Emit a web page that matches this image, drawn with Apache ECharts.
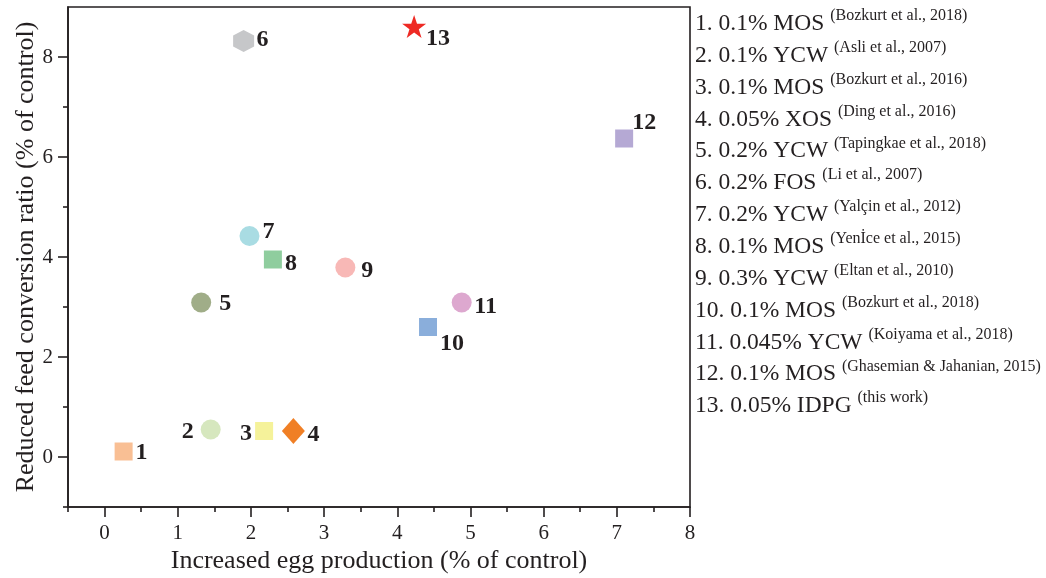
<!DOCTYPE html>
<html><head><meta charset="utf-8">
<script src="https://cdn.jsdelivr.net/npm/echarts@6/dist/echarts.min.js"></script>
<style>html,body{margin:0;padding:0;background:#fff}#c{width:1046px;height:578px}</style>
</head><body><div id="c"></div>
<script>
// ---- data ----
const pointIds = ['1','2','3','4','5','6','7','8','9','10','11','12','13'];
const eggProd = [0.26, 1.45, 2.18, 2.58, 1.32, 1.90, 1.98, 2.30, 3.29, 4.42, 4.88, 7.10, 4.23];
const fcrReduced = [0.11, 0.55, 0.52, 0.52, 3.09, 8.32, 4.42, 3.95, 3.79, 2.60, 3.09, 6.37, 8.61];
const treatments = ['0.1% MOS','0.1% YCW','0.1% MOS','0.05% XOS','0.2% YCW','0.2% FOS','0.2% YCW','0.1% MOS','0.3% YCW','0.1% MOS','0.045% YCW','0.1% MOS','0.05% IDPG'];
const references = ['(Bozkurt et al., 2018)','(Asli et al., 2007)','(Bozkurt et al., 2016)','(Ding et al., 2016)','(Tapingkae et al., 2018)','(Li et al., 2007)','(Yalçin et al., 2012)','(Yenİce et al., 2015)','(Eltan et al., 2010)','(Bozkurt et al., 2018)','(Koiyama et al., 2018)','(Ghasemian & Jahanian, 2015)','(this work)'];
const xTickLabels = [0, 1, 2, 3, 4, 5, 6, 7, 8];
const xMinorTicks = [-0.5, 0.5, 1.5, 2.5, 3.5, 4.5, 5.5, 6.5, 7.5];
const yTickLabels = [0, 2, 4, 6, 8];
const yMinorTicks = [-1, 1, 3, 5, 7];

// ---- styles ----
const HEX = 'path://M50,0 L93.3,25 L93.3,75 L50,100 L6.7,75 L6.7,25 Z';
const STAR = 'path://M50,0 L61.8,35.1 L98.9,35.1 L69.1,56.9 L80.3,91.9 L50,70.2 L19.7,91.9 L30.9,56.9 L1.1,35.1 L38.2,35.1 Z';
const symbols = ['rect','circle','rect','diamond','circle',HEX,'circle','rect','circle','rect','circle','rect',STAR];
const symSizes = [18,20,18,[23,26],20,[21,22],20,18,20,18,20,18,[24,23]];
const colors = ['#F9BF94','#D6E7BE','#F5F29A','#F07F25','#A0AD88','#C6C7C9','#A9DCE3','#8FCD9E','#F8B8B6','#8AAEDB','#DDA8CF','#B5A9D4','#EE2A24'];
const labelOffsets = [[18,1],[-23,2],[-18,3],[20,4],[24,1],[19,-1],[19,-4],[18,4],[22,3],[24,17],[24,4],[20,-16],[24,12]];
const FONT = 'Liberation Serif';
const INK = '#231f20';

const legendNames = treatments.map((t, i) => pointIds[i] + '. ' + t);

const series = pointIds.map((id, i) => ({
  type: 'scatter',
  name: legendNames[i],
  xAxisIndex: 0, yAxisIndex: 0,
  data: [[eggProd[i], fcrReduced[i]]],
  symbol: symbols[i],
  symbolSize: symSizes[i],
  itemStyle: { color: colors[i], opacity: 1 },
  emphasis: { disabled: true },
  label: {
    show: true, formatter: id, position: 'inside', offset: labelOffsets[i],
    fontFamily: FONT, fontSize: 24, fontWeight: 'bold', color: INK
  },
  z: 3
}));

const lineStyle = { color: INK, width: 1.6 };

const option = {
  animation: false,
  backgroundColor: '#fff',
  grid: { left: 68, right: 356, top: 7, bottom: 71, show: true, borderColor: INK, borderWidth: 1.6, outerBoundsMode: 'none' },
  legend: {
    orient: 'vertical', left: 690, top: 8, padding: 0, itemGap: 4.0,
    itemWidth: 0, itemHeight: 10, icon: 'none', selectedMode: false,
    data: legendNames,
    formatter: name => {
      const i = legendNames.indexOf(name);
      return '{m|' + name + ' }{s|' + references[i] + '}';
    },
    textStyle: {
      color: INK, fontFamily: FONT,
      rich: {
        m: { fontFamily: FONT, fontSize: 23.5, color: INK, lineHeight: 31.7, verticalAlign: 'middle' },
        s: { fontFamily: FONT, fontSize: 16, color: INK, lineHeight: 18, verticalAlign: 'top' }
      }
    }
  },
  xAxis: [{
    type: 'value', min: -0.5, max: 8, position: 'bottom',
    axisLine: { show: true, onZero: false, lineStyle },
    axisTick: { show: true, customValues: xTickLabels, length: 10, lineStyle },
    axisLabel: { customValues: xTickLabels, fontFamily: FONT, fontSize: 21, color: INK, margin: 16 },
    splitLine: { show: false },
    name: 'Increased egg production (% of control)', nameLocation: 'middle', nameGap: 41,
    nameMoveOverlap: false,
    nameTextStyle: { fontFamily: FONT, fontSize: 26, color: INK }
  }, {
    type: 'value', min: -0.5, max: 8, position: 'bottom', offset: 0,
    axisLine: { show: false, onZero: false },
    axisTick: { show: true, customValues: xMinorTicks, length: 5, lineStyle },
    axisLabel: { show: false },
    splitLine: { show: false }
  }],
  yAxis: [{
    type: 'value', min: -1, max: 9, position: 'left',
    axisLine: { show: true, onZero: false, lineStyle },
    axisTick: { show: true, customValues: yTickLabels, length: 10, lineStyle },
    axisLabel: { customValues: yTickLabels, fontFamily: FONT, fontSize: 21, color: INK, margin: 15 },
    splitLine: { show: false },
    name: 'Reduced feed conversion ratio (% of control)', nameLocation: 'middle', nameGap: 29,
    nameMoveOverlap: false,
    nameTextStyle: { fontFamily: FONT, fontSize: 26, color: INK }
  }, {
    type: 'value', min: -1, max: 9, position: 'left', offset: 0,
    axisLine: { show: false, onZero: false },
    axisTick: { show: true, customValues: yMinorTicks, length: 5, lineStyle },
    axisLabel: { show: false },
    splitLine: { show: false }
  }],
  series: series
};

const chart = echarts.init(document.getElementById('c'), null, { renderer: 'canvas' });
chart.setOption(option);
</script>
</body></html>
